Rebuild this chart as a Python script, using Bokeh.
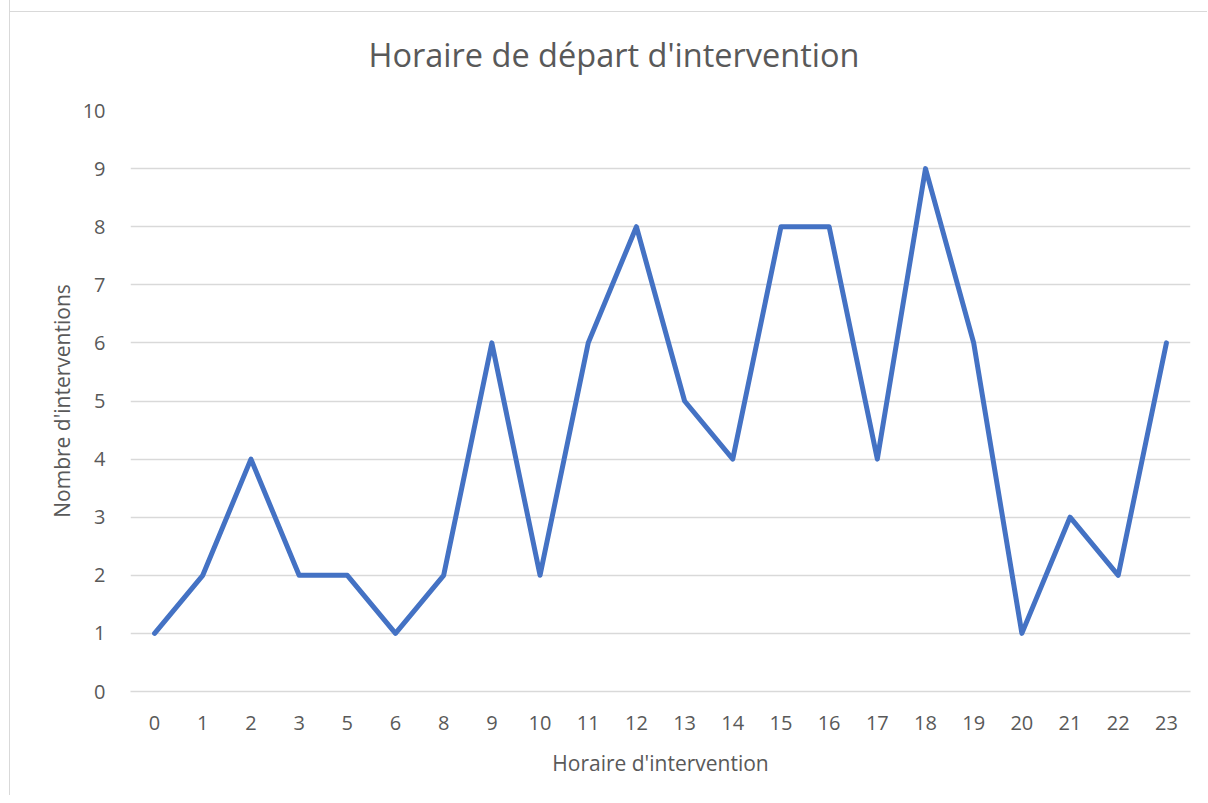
from bokeh.plotting import figure
from bokeh.models import FactorRange, Range1d, FixedTicker, Title
from bokeh.embed import file_html
from bokeh.resources import INLINE

hours = ["0", "1", "2", "3", "5", "6", "8", "9", "10", "11", "12", "13",
         "14", "15", "16", "17", "18", "19", "20", "21", "22", "23"]
interventions = [1, 2, 4, 2, 2, 1, 2, 6, 2, 6, 8, 5, 4, 8, 8, 4, 9, 6, 1, 3, 2, 6]
y_ticks = list(range(0, 11))
title_text = "Horaire de départ d'intervention"

FONT = "Open Sans"
GREY = "#595959"

p = figure(width=1198, height=796, x_range=FactorRange(*hours), y_range=Range1d(0, 10),
           output_backend="svg", toolbar_location=None,
           min_border_left=120, min_border_right=18, min_border_top=98, min_border_bottom=104,
           margin=(-1, 0, 0, 9),
           styles={"border-left": "1px solid #d9d9d9",
                   "background": "linear-gradient(#d9d9d9, #d9d9d9) 0px 12px / 100% 1px no-repeat, #ffffff"})
p.border_fill_color = None
p.outline_line_color = None
p.x_range.range_padding = 0

p.line(hours, interventions, line_color="#4472C4", line_width=5,
       line_join="round", line_cap="round")

t = Title(text=title_text, align="left", offset=238, vertical_align="top",
          text_font=FONT, text_font_size="32.5px", text_font_style="normal",
          text_color=GREY, standoff=64, text_line_height=0.6)
p.add_layout(t, "above")

p.yaxis.ticker = FixedTicker(ticks=y_ticks)
p.yaxis.axis_line_color = None
p.yaxis.major_tick_line_color = None
p.yaxis.minor_tick_line_color = None
p.yaxis.major_label_text_font = FONT
p.yaxis.major_label_text_font_size = "20px"
p.yaxis.major_label_text_color = GREY
p.yaxis.major_label_standoff = 19
p.yaxis.axis_label = "Nombre d'interventions"
p.yaxis.axis_label_text_font = FONT
p.yaxis.axis_label_text_font_size = "21px"
p.yaxis.axis_label_text_font_style = "normal"
p.yaxis.axis_label_text_color = GREY
p.yaxis.axis_label_standoff = 4

p.xaxis.axis_line_color = "#d9d9d9"
p.xaxis.axis_line_width = 1.5
p.xaxis.major_tick_line_color = None
p.xaxis.minor_tick_line_color = None
p.xaxis.major_label_text_font = FONT
p.xaxis.major_label_text_font_size = "20px"
p.xaxis.major_label_text_color = GREY
p.xaxis.major_label_standoff = 18
p.xaxis.axis_label = "Horaire d'intervention"
p.xaxis.axis_label_text_font = FONT
p.xaxis.axis_label_text_font_size = "21px"
p.xaxis.axis_label_text_font_style = "normal"
p.xaxis.axis_label_text_color = GREY
p.xaxis.axis_label_standoff = 16

p.xgrid.grid_line_color = None
p.ygrid.grid_line_color = "#d9d9d9"
p.ygrid.grid_line_width = 1.5

open("out.html", "w").write(file_html(p, INLINE))
